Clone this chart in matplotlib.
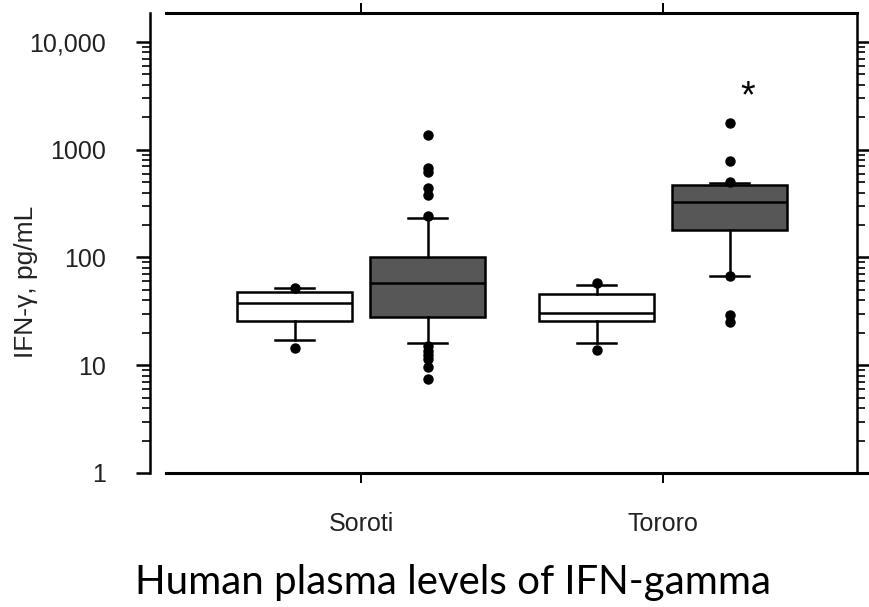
import matplotlib
matplotlib.use("Agg")
import matplotlib.pyplot as plt
from matplotlib.ticker import LogLocator, NullFormatter, FixedLocator

plt.rcParams["font.family"] = ["Liberation Sans", "DejaVu Sans"]

# data (pg/mL)
sites = ["Soroti", "Tororo"]
groups = ["Soroti ctrl", "Soroti case", "Tororo ctrl", "Tororo case"]
q1 = [25.9, 28.2, 25.9, 180]
med = [37.6, 57.6, 30.3, 330]
q3 = [48.2, 101.7, 45.8, 471]
whislo = [17.2, 16.0, 16.0, 67.8]
whishi = [51.8, 234, 55.6, 495]
fliers = [
    [52, 14.4],
    [1370, 680, 620, 440, 380, 245, 15, 13.5, 12.5, 11.5, 9.7, 7.5],
    [58, 13.9],
    [1780, 787, 500, 68, 29, 25],
]
fills = ["white", "#575757", "white", "#575757"]
yticks = [1, 10, 100, 1000, 10000]
ylabels = ["1", "10", "100", "1000", "10,000"]

offset = 0.22
positions = [0 - offset, 0 + offset, 1 - offset, 1 + offset]

stats = []
for i in range(len(groups)):
    stats.append({"label": groups[i], "q1": q1[i], "med": med[i], "q3": q3[i],
                  "whislo": whislo[i], "whishi": whishi[i], "fliers": fliers[i]})

fig = plt.figure(figsize=(8.69, 6.07), dpi=100)
ax = fig.add_axes([150 / 869, (607 - 473) / 607, 707 / 869, 460 / 607])

lw = 1.8
bp = ax.bxp(stats, positions=positions, widths=0.38, patch_artist=True,
            showfliers=True, capwidths=0.13,
            boxprops=dict(linewidth=lw, edgecolor="black"),
            medianprops=dict(color="black", linewidth=lw),
            whiskerprops=dict(color="black", linewidth=lw),
            capprops=dict(color="black", linewidth=lw),
            flierprops=dict(marker="o", markerfacecolor="black",
                            markeredgecolor="black", markersize=6.5))
for patch, c in zip(bp["boxes"], fills):
    patch.set_facecolor(c)

ax.set_yscale("log")
ax.set_ylim(1, 18580)
ax.set_xlim(-0.699, 1.642)

ax.yaxis.set_major_locator(FixedLocator(yticks))
ax.set_yticklabels(ylabels, fontsize=18, color="#222222")
ax.yaxis.set_minor_locator(LogLocator(base=10, subs=range(2, 10)))
ax.yaxis.set_minor_formatter(NullFormatter())
ax.tick_params(axis="y", which="major", direction="out", length=10, width=1.8,
               pad=22, right=True, left=True)
ax.tick_params(axis="y", which="minor", direction="out", length=6, width=1.2,
               right=True, left=True)

ax.set_xticks([0, 1])
ax.set_xticklabels(sites, fontsize=18, color="#222222")
ax.tick_params(axis="x", direction="out", length=7, width=1.4, pad=21,
               top=True, bottom=True)

ax.set_ylabel("IFN-\u03b3, pg/mL", fontsize=19, color="#222222")
ax.yaxis.set_label_coords(-0.158, 0.415)

for s in ["left", "right"]:
    ax.spines[s].set_linewidth(1.8)
ax.spines["bottom"].set_visible(False)
ax.spines["top"].set_visible(False)
ax.plot([0.0226, 1.017], [0, 0], color="black", lw=2.2,
        transform=ax.transAxes, clip_on=False)
ax.plot([0.0226, 1.0], [1, 1], color="black", lw=2.2,
        transform=ax.transAxes, clip_on=False)

ax.text(1.28, 3100, "*", fontsize=27, ha="center", va="center")

fig.text(0.521, 0.022, "Human plasma levels of IFN-gamma", fontsize=29,
         family=["Lato", "DejaVu Sans"], ha="center", va="baseline")

fig.savefig("out.png", dpi=100)
